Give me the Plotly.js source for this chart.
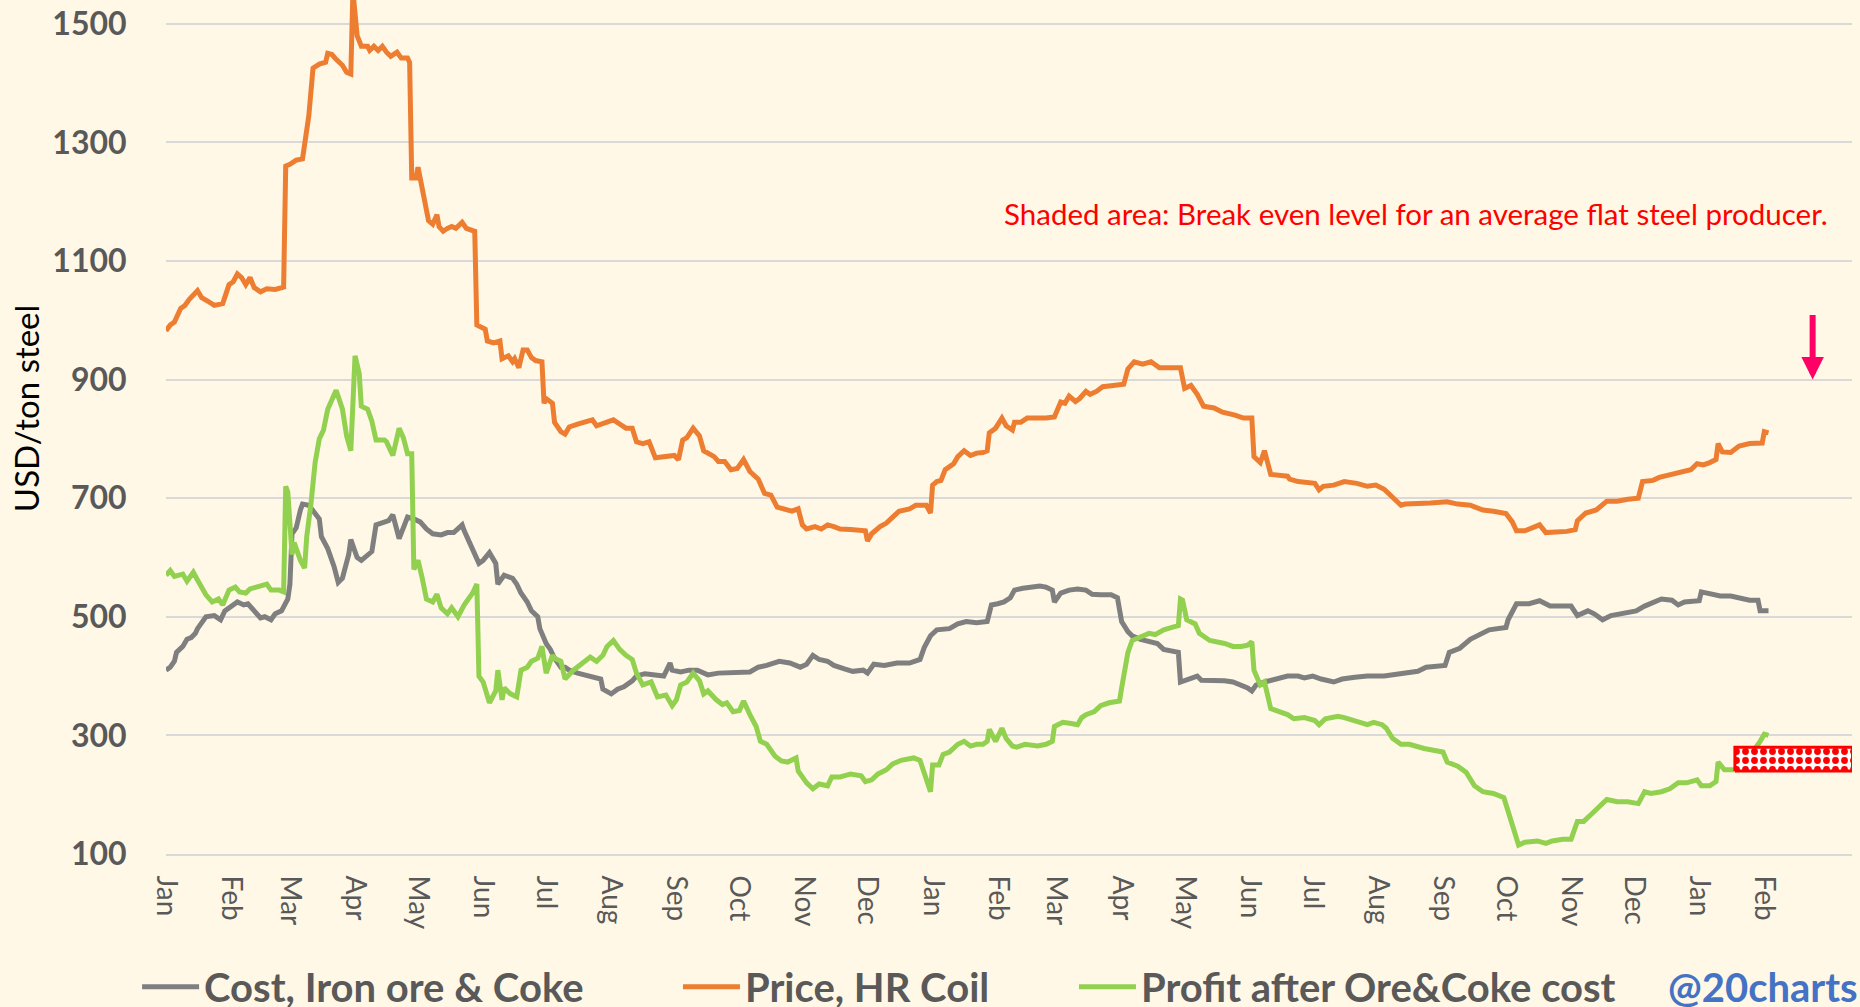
<!DOCTYPE html>
<html>
<head>
<meta charset="utf-8">
<script src="https://cdn.plot.ly/plotly-3.0.1.min.js"></script>
<style>
  html, body { margin: 0; padding: 0; background: #FFF8E6; }
  #chart { width: 1860px; height: 1007px; }
</style>
</head>
<body>
<div id="chart"></div>
<script>
// ---- Data ----
// Day offsets are counted from startDate.
const startDate = '2022-01-01';

const seriesNames = ['Cost, Iron ore & Coke', 'Price, HR Coil', 'Profit after Ore&Coke cost'];

// Price, HR Coil (USD/ton)
const priceDay = [0,2,4,7,9,11,15,17,20,23,27,30,32,34,36,38,40,42,45,48,52,55,56,57,59,62,65,68,70,73,76,77,79,81,84,86,88,89,91,93,96,97,99,101,103,105,107,110,112,115,116,117,119,120,122,123,125,127,129,130,132,134,136,138,141,143,146,147,148,150,152,153,156,159,160,163,165,166,168,170,172,174,176,179,180,181,184,185,188,190,
192,196,199,203,205,209,213,216,219,222,224,227,230,233,237,242,244,246,248,251,254,256,261,263,266,269,272,275,278,282,285,288,291,294,298,301,303,305,309,312,315,318,321,326,331,333,334,336,340,343,346,349,354,357,362,364,365,367,369,371,375,377,380,383,
386,389,391,392,395,398,400,403,404,407,410,415,419,423,426,428,430,433,435,438,440,443,446,451,456,458,461,465,469,473,478,483,485,488,491,494,499,503,509,513,517,518,521,523,526,530,534,535,539,547,549,551,556,561,567,572,
576,580,584,588,590,596,602,610,615,621,627,632,638,641,643,647,650,654,657,662,667,671,672,676,681,686,691,696,701,703,708,711,716,720,722,726,729,732,735,738,739,741,745,749,754,760,761,763];
const priceUsd = [982,992,997,1020,1025,1035,1050,1038,1032,1025,1028,1060,1065,1078,1072,1060,1072,1055,1048,1053,1052,1056,1056,1260,1263,1270,1272,1345,1425,1432,1435,1450,1448,1440,1430,1418,1415,1555,1480,1462,1462,1455,1462,1455,1462,1452,1445,1452,1442,1442,1435,1240,1240,1258,1220,1200,1168,1162,1178,1158,1150,1155,1158,1155,1165,1155,1150,1150,992,988,985,965,962,965,935,940,930,935,920,950,950,937,932,930,860,868,860,828,812,808,
820,825,828,832,822,826,832,825,818,818,795,792,795,768,770,772,765,798,802,818,805,780,770,762,762,748,750,765,745,732,708,705,685,682,678,682,655,648,652,648,655,652,648,647,647,645,628,640,652,658,668,678,682,688,688,675,722,728,730,748,758,770,780,772,
776,777,780,810,818,835,822,815,828,828,835,834,835,837,862,860,872,863,868,880,875,880,888,890,892,918,930,926,930,920,920,920,885,890,875,855,852,845,840,835,835,770,760,780,740,738,737,732,728,725,714,720,722,728,725,720,
722,715,702,688,690,690,692,694,690,688,680,678,674,660,645,645,650,655,642,642,644,647,662,675,680,695,695,698,700,728,730,735,740,742,745,748,758,756,760,765,792,778,777,788,792,793,812,810];

// Cost, Iron ore & Coke (USD/ton steel)
const costDay = [0,2,4,5,8,10,12,14,15,17,19,23,26,28,31,34,37,39,42,45,47,50,52,55,58,59,60,62,64,65,68,70,73,74,77,80,82,84,87,88,91,93,96,98,100,104,106,108,111,113,115,118,121,124,127,131,134,137,141,142,145,149,151,154,157,158,161,165,167,169,172,174,177,178,181,183,185,188,
190,192,196,199,204,207,208,212,215,218,222,224,228,233,237,240,241,245,249,253,258,263,271,278,282,286,292,297,302,305,308,311,315,318,323,327,332,334,337,342,348,354,359,361,364,367,373,377,381,
386,391,393,396,399,402,404,408,412,416,419,422,423,426,430,434,438,441,445,450,453,455,458,460,464,468,472,475,479,482,483,486,491,493,497,504,508,512,515,517,519,523,529,534,539,542,546,550,556,560,566,572,
580,588,596,600,609,611,616,621,626,630,638,639,643,649,654,659,665,669,672,677,680,684,688,694,700,704,707,712,717,720,723,730,731,735,740,745,750,754,758,759,763];
const costUsd = [410,415,425,440,450,462,465,472,480,492,500,502,495,510,518,525,520,522,510,498,500,495,505,510,530,555,640,650,680,690,688,680,665,635,615,585,558,565,605,630,600,595,605,610,655,660,662,672,632,650,668,665,660,648,640,638,642,642,655,645,620,590,595,608,590,555,570,565,555,540,525,510,500,480,455,445,430,415,
415,410,405,402,398,395,378,370,378,382,392,400,404,402,400,422,410,407,410,410,402,405,407,407,415,418,425,422,415,420,435,428,425,418,412,408,410,405,420,418,422,422,428,448,468,478,480,488,492,
490,492,520,522,525,532,545,548,550,552,550,545,525,540,545,547,545,538,537,537,532,492,475,468,462,458,455,445,442,440,390,393,400,393,393,392,390,385,380,375,385,390,395,400,400,397,400,395,390,395,398,400,
400,403,408,415,418,440,447,462,472,478,482,495,522,522,527,518,518,518,502,510,505,495,502,505,510,518,522,530,528,520,525,527,542,538,535,535,530,528,528,510,510];

// Profit after Ore&Coke cost (USD/ton steel)
const profitDay = [0,2,4,8,10,13,15,19,22,25,27,30,33,35,38,40,43,48,50,54,56,57,58,60,61,64,66,67,69,71,73,75,77,79,81,84,86,88,90,92,93,96,98,100,104,105,108,111,113,115,117,118,120,122,124,127,129,131,134,136,139,142,146,148,149,151,153,154,157,158,160,161,164,167,169,172,174,177,179,181,184,185,188,
190,194,198,202,205,208,210,213,216,219,222,224,227,231,234,238,241,243,245,248,251,254,256,258,262,265,267,270,273,275,278,281,283,286,290,293,296,300,301,305,308,311,315,317,321,326,331,333,336,339,343,346,350,356,359,361,364,365,368,370,373,377,380,383,
386,389,391,392,395,398,400,403,405,409,415,419,422,423,427,431,434,436,438,442,445,449,454,455,458,460,464,468,471,475,479,482,483,484,486,490,492,497,504,508,512,515,517,518,521,523,526,530,534,537,542,547,549,552,558,561,566,572,
575,579,581,584,588,592,599,605,608,610,615,619,623,627,632,637,639,642,644,647,650,653,657,660,665,669,672,675,678,682,686,691,696,701,704,707,712,716,720,724,729,731,735,738,739,742,747,751,754,759,761,763];
const profitUsd = [570,578,568,572,560,575,562,537,525,530,520,545,550,542,540,547,550,555,545,545,542,720,710,605,625,595,582,635,690,760,800,815,850,865,882,850,805,780,940,910,855,850,830,798,798,795,772,818,802,775,775,580,595,565,530,525,538,515,505,515,500,520,540,555,400,390,365,355,375,410,360,380,370,365,410,415,425,430,450,405,435,430,425,
395,410,420,432,425,435,450,460,445,435,428,405,385,390,365,368,350,360,385,390,405,392,370,375,360,352,355,340,342,358,335,315,290,285,265,257,255,262,240,220,210,218,215,230,230,235,232,222,225,235,242,252,258,262,258,235,205,250,250,268,272,285,290,282,
285,285,290,310,290,312,295,282,280,285,282,285,290,315,322,320,318,330,335,340,350,355,358,380,440,460,465,472,470,478,482,485,530,528,495,488,472,460,455,450,450,452,458,410,385,390,345,340,335,328,330,325,318,328,332,330,325,318,
322,318,312,295,285,285,278,275,272,255,248,238,215,205,202,195,170,135,115,120,122,122,118,122,125,125,155,155,165,180,192,188,188,185,205,202,205,210,220,220,225,215,215,222,255,242,242,260,265,290,302,300];

// Break-even band (shaded area)
const breakEvenDates = ['2024-01-18', '2024-03-14'];
const breakEvenRange = [240, 280];

// Month tick labels shown on the x axis (Jan 2022 .. Feb 2024)
const firstTickMonth = '2022-01';
const tickMonthCount = 26;

const yTitle = 'USD/ton steel';
const annotationText = 'Shaded area: Break even level for an average flat steel producer.';
const handle = '@20charts';

// ---- Build ----
const t0 = Date.UTC(2022, 0, 1);
const toDate = d => new Date(t0 + d * 86400000).toISOString().slice(0, 10);
const monthTicks = [];
for (let i = 0; i < tickMonthCount; i++) {
  const dt = new Date(Date.UTC(2022, i, 1));
  monthTicks.push(dt.toISOString().slice(0, 10));
}

const FONT = 'Lato, "Open Sans", sans-serif';
const legendFont = {family: FONT, size: 40, color: '#595959', weight: 'bold'};

const traces = [
  {x: costDay.map(toDate), y: costUsd, name: seriesNames[0], type: 'scatter', mode: 'lines',
   line: {color: '#7F7F7F', width: 5}, legend: 'legend'},
  {x: priceDay.map(toDate), y: priceUsd, name: seriesNames[1], type: 'scatter', mode: 'lines',
   line: {color: '#ED7D31', width: 5}, legend: 'legend2'},
  {x: profitDay.map(toDate), y: profitUsd, name: seriesNames[2], type: 'scatter', mode: 'lines',
   line: {color: '#92D050', width: 5}, legend: 'legend3'},
  {x: [breakEvenDates[0], breakEvenDates[1], breakEvenDates[1], breakEvenDates[0], breakEvenDates[0]],
   y: [breakEvenRange[0], breakEvenRange[0], breakEvenRange[1], breakEvenRange[1], breakEvenRange[0]],
   type: 'scatter', mode: 'lines', fill: 'toself', showlegend: false, hoverinfo: 'skip',
   line: {color: '#FF0000', width: 3},
   fillcolor: '#FFFFFF',
   fillpattern: {shape: '.', bgcolor: '#FFFFFF', fgcolor: '#FF0000', size: 9, solidity: 0.45}}
];

const legendBase = {orientation: 'h', xref: 'container', yref: 'container', xanchor: 'left', yanchor: 'middle',
  y: 0.02, bgcolor: 'rgba(0,0,0,0)', font: legendFont, borderwidth: 0, itemwidth: 57};

const layout = {
  width: 1860, height: 1007,
  margin: {l: 166, r: 8, t: 0, b: 153, pad: 0},
  paper_bgcolor: '#FFF8E6', plot_bgcolor: '#FFF8E6',
  showlegend: true,
  xaxis: {
    type: 'date', range: ['2022-01-01', '2024-03-13 18:00'],
    tickmode: 'array', tickvals: monthTicks, tickformat: '%b', tickangle: 90,
    showgrid: false, zeroline: false,
    ticks: 'outside', ticklen: 14, tickcolor: 'rgba(0,0,0,0)',
    tickfont: {family: FONT, size: 28, color: '#595959'},
    showline: true, linecolor: '#D9D9D9', linewidth: 2
  },
  yaxis: {
    range: [100, 1540], tick0: 100, dtick: 200,
    showgrid: true, gridcolor: '#D9D9D9', gridwidth: 2, zeroline: false,
    ticks: 'outside', ticklen: 32, tickcolor: 'rgba(0,0,0,0)',
    tickfont: {family: FONT, size: 32, color: '#595959', weight: 'bold'}
  },
  legend: Object.assign({}, legendBase, {x: 0.0737}),
  legend2: Object.assign({}, legendBase, {x: 0.3645}),
  legend3: Object.assign({}, legendBase, {x: 0.5774}),
  annotations: [
    {text: yTitle, xref: 'paper', yref: 'paper', x: -0.083, y: 0.521, xanchor: 'center', yanchor: 'middle',
     textangle: -90, showarrow: false, font: {family: FONT, size: 33, color: '#000000'}},
    {text: annotationText, xref: 'paper', yref: 'y', x: 0.987, y: 1180, xanchor: 'right', yanchor: 'middle',
     showarrow: false, font: {family: FONT, size: 29.5, color: '#FF0000'}},
    {text: '', xref: 'x', yref: 'y', x: '2024-02-24', y: 900, showarrow: true, ax: 0, ay: -66,
     arrowcolor: '#FF0066', arrowwidth: 6, arrowhead: 2, arrowsize: 0.75},
    {text: handle, xref: 'paper', yref: 'paper', x: 0.8897, y: -0.1557, xanchor: 'left', yanchor: 'middle',
     showarrow: false, font: {family: FONT, size: 40, color: '#4472C4', weight: 'bold'}}
  ]
};

Plotly.newPlot('chart', traces, layout, {displayModeBar: false, staticPlot: true});
</script>
</body>
</html>
